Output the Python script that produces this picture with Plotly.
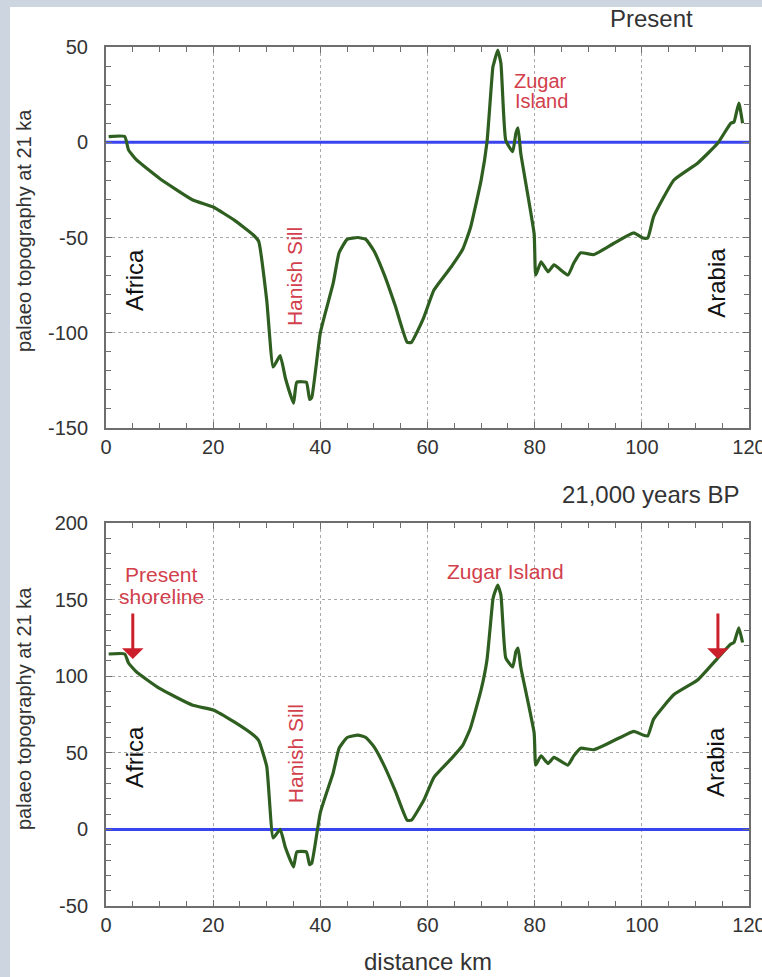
import plotly.graph_objects as go

# ---------------- data ----------------
distance_km = [0.5, 3.5, 4.2, 5.7, 10, 16.2, 20, 24, 27.5, 28.5, 30, 31.2, 32.5, 33.5,
               35, 35.6, 37.4, 38, 38.4, 40, 42.4, 43.5, 45, 47, 48.5, 50, 52, 54,
               56.2, 57, 59.3, 61.2, 64.4, 66.6, 68, 70, 71.1, 72.2, 72.4, 73.1, 73.7,
               74.6, 75.9, 76.5, 76.9, 77.4, 79.9, 80.2, 81.2, 82.5, 83.6, 86.2, 87.3,
               88.6, 91, 94.8, 98.5, 100.2, 101.1, 102.2, 106, 110.4, 114.2, 116.6,
               117.2, 118.1, 118.8]

elev_present = [3, 3, -4, -9.3, -19, -30.3, -34, -41, -48.7, -52, -83, -118, -112, -124,
                -137, -126, -126, -135, -134, -100, -74, -58, -51, -50, -51, -57, -70, -86,
                -105, -105, -92, -77.6, -65.5, -56, -45, -20, 0, 39.5, 41.6, 48.4, 41.5,
                1, -5, 4.8, 7.5, -5.7, -48, -69.7, -62.8, -68, -64.4, -69.7, -63.4,
                -58, -59, -53, -47.6, -50.3, -50.3, -39, -19.8, -11, -0.4, 10,
                10.6, 20.6, 10]

elev_21ka = [114.5, 114.5, 108.6, 102.7, 92, 81, 78, 70, 61.6, 58, 41, -5.6, 0, -12,
             -24.5, -14.7, -14.7, -23, -22, 11, 37, 53, 60, 61.6, 60, 54, 41, 25,
             6, 6, 19, 34, 46, 55, 66, 91, 110.6, 150, 153, 159.5, 153,
             112, 106, 116, 118.4, 106, 63, 42, 48, 43, 47, 42, 48,
             53, 52, 58, 64, 61.6, 61, 72, 88, 97.5, 112, 121,
             122, 131.5, 122]

sea_level_km = [0, 120]
sea_level_m = [0, 0]

x_ticks = [0, 20, 40, 60, 80, 100, 120]
y_ticks_present = [-150, -100, -50, 0, 50]
y_ticks_21ka = [-50, 0, 50, 100, 150, 200]

# ---------------- styling ----------------
FONT = "Liberation Sans, Arial, Helvetica, sans-serif"
GREEN = "#2f5f20"
BLUE = "#3a44ee"
RED_TXT = "#d2404c"
RED_ARROW = "#cc1f2c"
AX = "#6e6e6e"
TXT = "#333333"

fig = go.Figure()

fig.add_trace(go.Scatter(x=sea_level_km, y=sea_level_m, mode="lines",
                         line=dict(color=BLUE, width=3), xaxis="x", yaxis="y",
                         hoverinfo="skip", showlegend=False))
fig.add_trace(go.Scatter(x=distance_km, y=elev_present, mode="lines",
                         line=dict(color=GREEN, width=3.2, shape="spline", smoothing=0.4),
                         xaxis="x", yaxis="y", showlegend=False))
fig.add_trace(go.Scatter(x=sea_level_km, y=sea_level_m, mode="lines",
                         line=dict(color=BLUE, width=3), xaxis="x2", yaxis="y2",
                         hoverinfo="skip", showlegend=False))
fig.add_trace(go.Scatter(x=distance_km, y=elev_21ka, mode="lines",
                         line=dict(color=GREEN, width=3.2, shape="spline", smoothing=0.4),
                         xaxis="x2", yaxis="y2", showlegend=False))

def xaxis_style(anchor):
    return dict(anchor=anchor, domain=[0, 1], range=[0, 120], tickvals=x_ticks,
                ticktext=[str(v) for v in x_ticks],
                ticks="inside", ticklen=6, tickcolor=AX, tickwidth=1,
                showline=True, linecolor=AX, linewidth=2, mirror="allticks",
                showgrid=True, gridcolor="#a8a8a8", griddash="dot", gridwidth=1,
                zeroline=False, tickfont=dict(family=FONT, size=20, color=TXT),
                ticklabelstandoff=0, ticklabeloverflow="allow", automargin=False,
                minor=dict(dtick=5, ticks="inside", ticklen=5, tickcolor=AX,
                           showgrid=False))

def yaxis_style(anchor, domain, rng, ticks):
    return dict(anchor=anchor, domain=domain, range=rng, tickvals=ticks,
                ticktext=[str(v) for v in ticks],
                ticks="inside", ticklen=6, tickcolor=AX, tickwidth=1,
                showline=True, linecolor=AX, linewidth=2, mirror="allticks",
                showgrid=True, gridcolor="#a8a8a8", griddash="dot", gridwidth=1,
                zeroline=False, tickfont=dict(family=FONT, size=20, color=TXT),
                ticklabelstandoff=12, ticklabeloverflow="allow", automargin=False,
                minor=dict(dtick=10, ticks="inside", ticklen=5, tickcolor=AX,
                           showgrid=False))

# pixel helpers for layout placement (plot area: x 106..749, y 47..906)
def px_x(px):
    return (px - 106) / 643.0

def px_y(py):
    return (906 - py) / 859.0

fig.update_layout(
    width=762, height=977,
    margin=dict(l=106, r=13, t=47, b=71),
    paper_bgcolor="#cdd6e0",
    plot_bgcolor="white",
    font=dict(family=FONT, color=TXT),
    xaxis=xaxis_style("y"),
    yaxis=yaxis_style("x", [px_y(428), 1.0], [-150, 50], y_ticks_present),
    xaxis2=xaxis_style("y2"),
    yaxis2=yaxis_style("x2", [0.0, px_y(523)], [-50, 200], y_ticks_21ka),
)

# white panel behind the figure (the reference sits on a photo)
fig.add_shape(type="rect", xref="paper", yref="paper",
              x0=px_x(10), x1=px_x(770), y0=px_y(985), y1=px_y(7),
              fillcolor="white", line=dict(width=0), layer="below")

def paper_text(text, px, py, size, angle=0, color=TXT):
    return dict(text=text, xref="paper", yref="paper", x=px_x(px), y=px_y(py),
                xanchor="center", yanchor="middle", textangle=angle,
                showarrow=False, font=dict(size=size, color=color))

ann = []
ann.append(paper_text("Present", 651, 18, 24))
ann.append(paper_text("21,000 years BP", 650, 495, 24))
ann.append(paper_text("distance km", 428, 961, 24))
ann.append(paper_text("palaeo topography at 21 ka", 24, 230, 20, -90))
ann.append(paper_text("palaeo topography at 21 ka", 24, 708, 20, -90))

def data_text(text, x, y, axis, size, color, angle=0):
    return dict(text=text, x=x, y=y, xref="x" + axis, yref="y" + axis,
                xanchor="center", yanchor="middle", textangle=angle,
                showarrow=False, font=dict(size=size, color=color))

ann += [
    data_text("Africa", 5.4, -72.3, "", 24, "#111", -90),
    data_text("Hanish Sill", 35.3, -70.7, "", 21, RED_TXT, -90),
    data_text("Zugar", 81.0, 32.0, "", 20, RED_TXT),
    data_text("Island", 81.2, 21.5, "", 20, RED_TXT),
    data_text("Arabia", 113.8, -73.9, "", 24, "#111", -90),
    data_text("Present", 10.3, 166.5, "2", 21, RED_TXT),
    data_text("shoreline", 10.3, 152.0, "2", 21, RED_TXT),
    data_text("Zugar Island", 74.5, 168.5, "2", 21, RED_TXT),
    data_text("Africa", 5.4, 47.3, "2", 24, "#111", -90),
    data_text("Hanish Sill", 35.3, 49.2, "2", 21, RED_TXT, -90),
    data_text("Arabia", 113.8, 43.8, "2", 24, "#111", -90),
]
# shoreline arrows
for xa in (5.0, 114.2):
    ann.append(dict(text="", x=xa, y=111.2, xref="x2", yref="y2", showarrow=True,
                    ax=0, ay=-47, axref="pixel", ayref="pixel",
                    arrowhead=1, arrowsize=1.2, arrowwidth=3, arrowcolor=RED_ARROW))

fig.update_layout(annotations=ann)

fig.write_html("out.html",
               config={"displayModeBar": False},
               post_script="document.body.style.margin='0px';"
                           "document.body.style.overflow='hidden';")
